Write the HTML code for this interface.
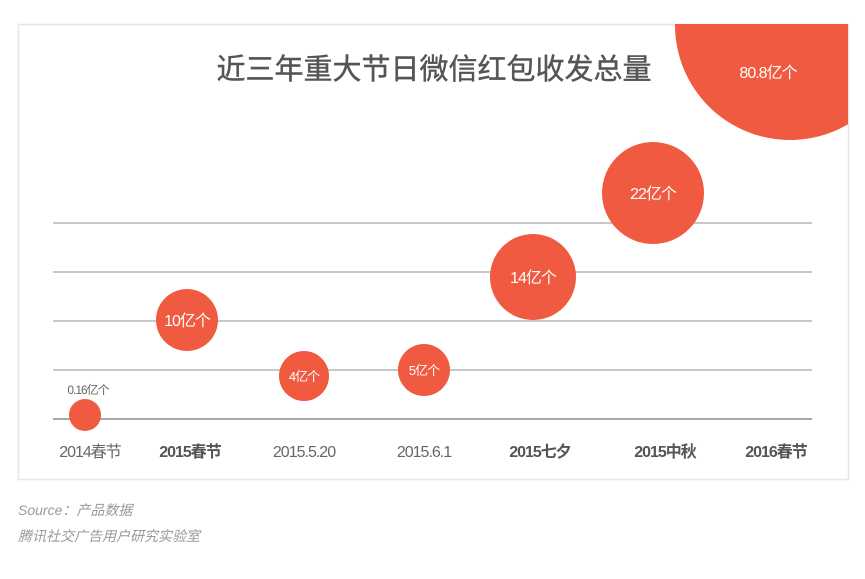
<!DOCTYPE html>
<html><head><meta charset="utf-8"><style>
body{margin:0;background:#fff;width:865px;height:579px;overflow:hidden;font-family:"Liberation Sans","Noto Sans CJK SC",sans-serif;}
</style></head><body>
<svg width="865" height="579" xmlns="http://www.w3.org/2000/svg" style="position:absolute;left:0;top:0">
<defs><clipPath id="c"><rect x="18" y="24" width="830" height="455"/></clipPath></defs>
<rect x="18.5" y="24.5" width="830" height="455" fill="#fff" stroke="#e6e6e6" stroke-width="1.5"/>
<g stroke="#a8a8a8" stroke-width="1.3">
<line x1="53" y1="223" x2="812" y2="223"/>
<line x1="53" y1="272" x2="812" y2="272"/>
<line x1="53" y1="321" x2="812" y2="321"/>
<line x1="53" y1="370" x2="812" y2="370"/>
<line x1="53" y1="419" x2="812" y2="419" stroke-width="2"/>
</g>
<g fill="#f05a40" clip-path="url(#c)">
<circle cx="790" cy="25" r="115"/>
<circle cx="85" cy="415" r="16"/>
<circle cx="187" cy="320" r="31"/>
<circle cx="304" cy="376" r="25"/>
<circle cx="424" cy="370" r="26"/>
<circle cx="533" cy="277" r="43"/>
<circle cx="653" cy="193" r="51"/>
</g>
<text x="434" y="79" text-anchor="middle" font-size="29" fill="#555" stroke="#555" stroke-width="0.4" font-family="Liberation Sans,Noto Sans CJK SC,sans-serif">近三年重大节日微信红包收发总量</text>
<g fill="#fff" font-size="16" text-anchor="middle" font-family="Liberation Sans,Noto Sans CJK SC,sans-serif" letter-spacing="-1">
<text x="768" y="78">80.8亿个</text>
<text x="653" y="199">22亿个</text>
<text x="533" y="283">14亿个</text>
<text x="187" y="326">10亿个</text>
<text x="304" y="381" font-size="13">4亿个</text>
<text x="424" y="375" font-size="13">5亿个</text>
</g>
<text x="88" y="394" text-anchor="middle" font-size="12" fill="#666" letter-spacing="-1">0.16亿个</text>
<g font-size="16" text-anchor="middle" fill="#666" letter-spacing="-1">
<text x="90" y="457">2014春节</text>
<text x="190" y="457" font-weight="bold" fill="#555">2015春节</text>
<text x="304" y="457">2015.5.20</text>
<text x="424" y="457">2015.6.1</text>
<text x="540" y="457" font-weight="bold" fill="#555">2015七夕</text>
<text x="665" y="457" font-weight="bold" fill="#555">2015中秋</text>
<text x="776" y="457" font-weight="bold" fill="#555">2016春节</text>
</g>
<g font-size="14" fill="#999" font-style="italic">
<text x="18" y="515">Source：产品数据</text>
<text x="18" y="541">腾讯社交广告用户研究实验室</text>
</g>
</svg>
</body></html>
